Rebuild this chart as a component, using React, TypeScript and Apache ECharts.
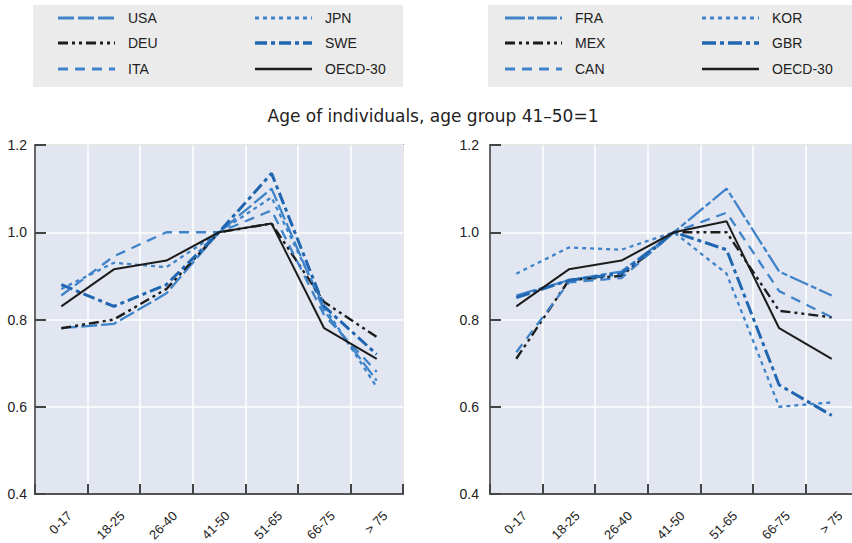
import React, { useEffect, useRef } from "react";
import * as echarts from "echarts";

const categories = ["0-17", "18-25", "26-40", "41-50", "51-65", "66-75", "> 75"];
const yTicks = [0.4, 0.6, 0.8, 1.0, 1.2];
const titleText = "Age of individuals, age group 41\u201350=1";

// Left panel
const leftNames = ["USA", "DEU", "ITA", "JPN", "SWE", "OECD-30"];
const usaValues = [0.78, 0.79, 0.86, 1.0, 1.1, 0.82, 0.66];
const deuValues = [0.78, 0.8, 0.87, 1.0, 1.02, 0.84, 0.76];
const itaValues = [0.855, 0.945, 1.0, 1.0, 1.05, 0.81, 0.68];
const jpnValues = [0.87, 0.93, 0.92, 1.0, 1.08, 0.83, 0.645];
const sweValues = [0.88, 0.83, 0.88, 1.0, 1.135, 0.83, 0.72];
const oecdLeftValues = [0.83, 0.915, 0.935, 1.0, 1.02, 0.78, 0.71];

// Right panel
const rightNames = ["FRA", "MEX", "CAN", "KOR", "GBR", "OECD-30"];
const fraValues = [0.855, 0.89, 0.91, 1.0, 1.1, 0.91, 0.855];
const mexValues = [0.71, 0.89, 0.9, 1.0, 1.0, 0.82, 0.805];
const canValues = [0.725, 0.885, 0.895, 1.0, 1.045, 0.865, 0.805];
const korValues = [0.905, 0.965, 0.96, 1.0, 0.905, 0.6, 0.61];
const gbrValues = [0.85, 0.89, 0.905, 1.0, 0.96, 0.65, 0.58];
const oecdRightValues = [0.83, 0.915, 0.935, 1.0, 1.025, 0.78, 0.71];

const BLUE = "#3f83c9";
const DARKBLUE = "#2066b0";
const BLACK = "#1c1c1c";

type Sty = { color: string; width: number; dash: number[] | null };
const leftStyles: Sty[] = [
  { color: BLUE, width: 2.3, dash: [16, 4] },
  { color: BLACK, width: 2.4, dash: [10, 4, 3, 4, 3, 4] },
  { color: BLUE, width: 2.3, dash: [10, 7] },
  { color: BLUE, width: 2.3, dash: [4, 4] },
  { color: DARKBLUE, width: 3, dash: [12, 4, 4, 4] },
  { color: BLACK, width: 2, dash: null },
];
const rightStyles: Sty[] = [
  { color: BLUE, width: 2.3, dash: [20, 3, 6, 3] },
  { color: BLACK, width: 2.4, dash: [10, 4, 3, 4, 3, 4] },
  { color: BLUE, width: 2.3, dash: [10, 7] },
  { color: BLUE, width: 2.3, dash: [4, 4] },
  { color: DARKBLUE, width: 3, dash: [14, 4, 4, 4] },
  { color: BLACK, width: 2, dash: null },
];

const leftValues = [usaValues, deuValues, itaValues, jpnValues, sweValues, oecdLeftValues];
const rightValues = [fraValues, mexValues, canValues, korValues, gbrValues, oecdRightValues];

function legendGraphics(names: string[], styles: Sty[], boxX: number, boxW: number, cols: number[]) {
  const els: any[] = [
    { type: "rect", shape: { x: boxX, y: 5, width: boxW, height: 82 }, style: { fill: "#ebebec" }, silent: true },
  ];
  const rows = [18, 43, 69];
  names.forEach((n, i) => {
    const col = Math.floor(i / 3);
    const row = i % 3;
    const lx = cols[col];
    const s = styles[i];
    els.push({
      type: "line",
      shape: { x1: lx, y1: rows[row], x2: lx + 57, y2: rows[row] },
      style: { stroke: s.color, lineWidth: s.width + 0.6, lineDash: s.dash || undefined },
      silent: true,
    });
    els.push({
      type: "text",
      x: lx + 70,
      y: rows[row],
      style: {
        text: n,
        fontSize: 14,
        fontFamily: "Liberation Sans, Arial, sans-serif",
        fill: "#222",
        textVerticalAlign: "middle",
        textAlign: "left",
      },
      silent: true,
    });
  });
  return els;
}

export default function App() {
  const ref = useRef<HTMLDivElement>(null);
  useEffect(() => {
    if (!ref.current) return;
    const chart = echarts.init(ref.current, undefined, { renderer: "svg" });
    const font = "Liberation Sans, Arial, sans-serif";
    const mkX = (gi: number) => ({
      type: "category",
      gridIndex: gi,
      data: categories,
      boundaryGap: true,
      axisLine: { show: true, lineStyle: { color: "#555", width: 2 } },
      axisTick: { show: true, inside: true, length: 10, interval: 0, lineStyle: { color: "#444", width: 2 } },
      splitLine: { show: true, interval: 0, lineStyle: { color: "#ffffff", width: 1.5 } },
      axisLabel: {
        rotate: 45,
        interval: 0,
        margin: 11,
        verticalAlign: "top",
        lineHeight: 24,
        fontSize: 13,
        color: "#222",
        fontFamily: font,
      },
    });
    const mkY = (gi: number, margin: number) => ({
      type: "value",
      gridIndex: gi,
      min: yTicks[0],
      max: yTicks[yTicks.length - 1],
      interval: 0.2,
      axisLine: { show: true, lineStyle: { color: "#666", width: 2 } },
      axisTick: { show: true, inside: true, length: 11, lineStyle: { color: "#444", width: 2 } },
      splitLine: { show: true, lineStyle: { color: "#ffffff", width: 1.5 } },
      axisLabel: {
        margin,
        fontSize: 14,
        color: "#222",
        fontFamily: font,
        formatter: (v: number) => v.toFixed(1),
      },
    });
    const mkSeries = (names: string[], vals: number[][], styles: Sty[], gi: number) =>
      names.map((n, i) => ({
        name: n + (gi === 1 ? " " : ""),
        type: "line",
        xAxisIndex: gi,
        yAxisIndex: gi,
        data: vals[i],
        symbol: "none",
        z: i === 5 ? 3 : 2,
        lineStyle: { color: styles[i].color, width: styles[i].width, type: styles[i].dash || "solid" },
      }));

    const gridBase = {
      top: 145,
      width: 368,
      height: 349,
      show: true,
      backgroundColor: "#e2e6f0",
      borderColor: "#9c9c9c",
      borderWidth: 2,
      containLabel: false,
      outerBoundsMode: "none",
    };

    chart.setOption({
      animation: false,
      grid: [
        { ...gridBase, left: 35 },
        { ...gridBase, left: 490 },
      ],
      xAxis: [mkX(0), mkX(1)],
      yAxis: [mkY(0, 8), mkY(1, 11)],
      series: [...mkSeries(leftNames, leftValues, leftStyles, 0), ...mkSeries(rightNames, rightValues, rightStyles, 1)],
      graphic: [
        ...legendGraphics(leftNames, leftStyles, 33, 370, [58, 255]),
        ...legendGraphics(rightNames, rightStyles, 488, 364, [505, 702]),
        {
          type: "text",
          x: 433,
          y: 116,
          style: {
            text: titleText,
            fontSize: 17,
            fontFamily: "DejaVu Sans, Liberation Sans, sans-serif",
            fill: "#222",
            textAlign: "center",
            textVerticalAlign: "middle",
          },
          silent: true,
        },
      ],
    });
    return () => chart.dispose();
  }, []);
  return (
    <div
      ref={ref}
      style={{ position: "fixed", left: 0, top: 0, width: 852, height: 543, background: "#ffffff" }}
    />
  );
}
